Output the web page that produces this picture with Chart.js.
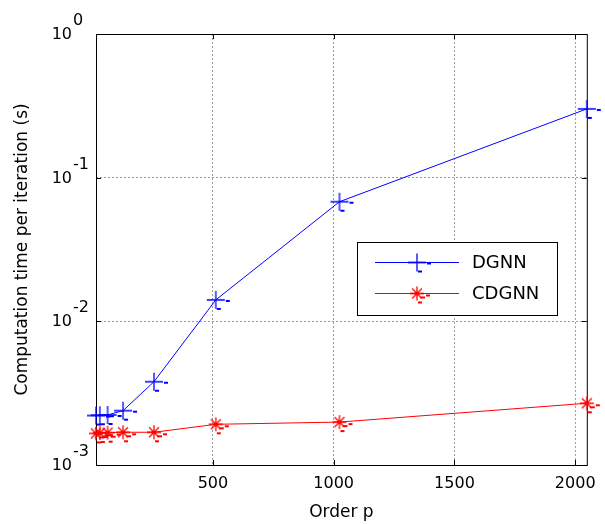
<!DOCTYPE html>
<html>
<head>
<meta charset="UTF-8">
<title>Computation time per iteration</title>
<script src="https://cdn.jsdelivr.net/npm/chart.js"></script>
<style>
  body { margin: 0; background: #fff; }
  canvas { display: block; }
</style>
</head>
<body>
<canvas id="timeChart" width="605" height="524"></canvas>
<script>
// data
const orders = [16, 32, 64, 128, 256, 512, 1024, 2048];
const dgnnTimes = [0.00221, 0.00222, 0.00223, 0.00239, 0.0038, 0.0141, 0.068, 0.301];
const cdgnnTimes = [0.00166, 0.00167, 0.00168, 0.00169, 0.00169, 0.00192, 0.00199, 0.00269];
const xTicks = [500, 1000, 1500, 2000];
const yTicks = [0.001, 0.01, 0.1, 1];
const seriesNames = ['DGNN', 'CDGNN'];

const FONT = '"DejaVu Sans", sans-serif';

// matlab style markers, with the little dashes the export left behind
function makeMarker(color, star) {
  const c = document.createElement('canvas');
  c.width = 32; c.height = 32;
  const g = c.getContext('2d');
  g.strokeStyle = color;
  g.fillStyle = color;
  g.lineWidth = 1.3;
  const m = 16;
  g.beginPath();
  if (star) {
    const r = 7;
    for (let a = 0; a < 4; a++) {
      const t = a * Math.PI / 4;
      g.moveTo(m - r * Math.cos(t), m - r * Math.sin(t));
      g.lineTo(m + r * Math.cos(t), m + r * Math.sin(t));
    }
    g.stroke();
    g.fillRect(m + 3, m + 3, 5, 2);
    g.fillRect(m + 9, m + 1, 4, 2);
    g.fillRect(m + 1, m + 8, 4, 2);
  } else {
    g.moveTo(m - 9, m); g.lineTo(m + 9, m);
    g.moveTo(m, m - 9); g.lineTo(m, m + 9);
    g.stroke();
    g.fillRect(m + 10, m, 4, 2);
    g.fillRect(m + 1, m + 8, 4, 2);
  }
  return c;
}
const blueMark = makeMarker('#0000ff', false);
const redMark = makeMarker('#ff0000', true);

const axesBox = {
  id: 'axesBox',
  beforeDatasetsDraw(chart) {
    const { ctx, chartArea: a, scales } = chart;
    ctx.save();
    ctx.strokeStyle = '#000';
    ctx.lineWidth = 1;
    ctx.strokeRect(a.left + 0.5, a.top + 0.5, a.right - a.left, a.bottom - a.top);
    ctx.beginPath();
    xTicks.forEach(v => {
      const x = Math.round(scales.x.getPixelForValue(v)) + 0.5;
      ctx.moveTo(x, a.bottom); ctx.lineTo(x, a.bottom - 5);
      ctx.moveTo(x, a.top); ctx.lineTo(x, a.top + 5);
    });
    yTicks.forEach(v => {
      const y = Math.round(scales.y.getPixelForValue(v)) + 0.5;
      ctx.moveTo(a.left, y); ctx.lineTo(a.left + 5, y);
      ctx.moveTo(a.right, y); ctx.lineTo(a.right - 5, y);
    });
    ctx.stroke();
    ctx.restore();
  },
  afterDraw(chart) {
    const { ctx, chartArea: a, scales } = chart;
    ctx.save();
    // y tick labels as 10^n
    ctx.fillStyle = '#000';
    ctx.font = '16px ' + FONT;
    yTicks.forEach(v => {
      const y = scales.y.getPixelForValue(v);
      ctx.textAlign = 'right';
      ctx.textBaseline = 'middle';
      ctx.fillText('10', a.left - 24, y + 1);
      ctx.textAlign = 'left';
      ctx.fillText(String(Math.round(Math.log10(v))), a.left - 23, y - 13);
    });
    // legend box
    const lx = a.left + 261, ly = a.top + 208, lw = 200, lh = 73;
    ctx.fillStyle = '#fff';
    ctx.fillRect(lx, ly, lw, lh);
    ctx.strokeStyle = '#000';
    ctx.lineWidth = 1;
    ctx.strokeRect(lx + 0.5, ly + 0.5, lw, lh);
    const cols = ['#0000ff', '#ff0000'];
    const marks = [blueMark, redMark];
    seriesNames.forEach((name, i) => {
      const y = Math.round(ly + 20 + i * 31) + 0.5;
      ctx.strokeStyle = cols[i];
      ctx.beginPath();
      ctx.moveTo(lx + 18, y); ctx.lineTo(lx + 102, y);
      ctx.stroke();
      ctx.drawImage(marks[i], lx + 60 - 16, y - 16);
      ctx.fillStyle = '#000';
      ctx.font = '18px ' + FONT;
      ctx.textAlign = 'left';
      ctx.textBaseline = 'middle';
      ctx.fillText(name, lx + 115, y + 1);
    });
    ctx.restore();
  }
};

new Chart(document.getElementById('timeChart'), {
  type: 'line',
  data: {
    labels: orders,
    datasets: [
      {
        label: seriesNames[0],
        data: orders.map((p, i) => ({ x: p, y: dgnnTimes[i] })),
        borderColor: '#0000ff',
        borderWidth: 1,
        pointStyle: blueMark,
        pointRadius: 8,
        clip: false
      },
      {
        label: seriesNames[1],
        data: orders.map((p, i) => ({ x: p, y: cdgnnTimes[i] })),
        borderColor: '#ff0000',
        borderWidth: 1,
        pointStyle: redMark,
        pointRadius: 8,
        clip: false
      }
    ]
  },
  options: {
    responsive: false,
    animation: false,
    devicePixelRatio: 1,
    layout: { padding: { top: 34, right: 18, left: 0, bottom: 0 } },
    plugins: {
      legend: { display: false },
      tooltip: { enabled: false }
    },
    scales: {
      x: {
        type: 'linear',
        min: 16,
        max: 2048,
        afterBuildTicks: s => { s.ticks = xTicks.map(v => ({ value: v })); },
        afterFit: s => { s.height = 59; },
        ticks: {
          color: '#000',
          font: { family: FONT, size: 16 },
          padding: 9,
          callback: v => String(v)
        },
        grid: { color: '#9a9a9a', drawTicks: false },
        border: { display: false, dash: [2, 2] },
        title: {
          display: true,
          text: 'Order p',
          color: '#000',
          font: { family: FONT, size: 17 },
          padding: { top: 1, bottom: 1 }
        }
      },
      y: {
        type: 'logarithmic',
        min: 0.001,
        max: 1,
        afterBuildTicks: s => { s.ticks = yTicks.map(v => ({ value: v })); },
        afterFit: s => { s.width = 96; },
        ticks: { display: false },
        grid: { color: '#9a9a9a', drawTicks: false },
        border: { display: false, dash: [2, 2] },
        title: {
          display: true,
          text: 'Computation time per iteration (s)',
          color: '#000',
          font: { family: FONT, size: 17 },
          padding: { top: 12, bottom: 0 }
        }
      }
    }
  },
  plugins: [axesBox]
});
</script>
</body>
</html>
